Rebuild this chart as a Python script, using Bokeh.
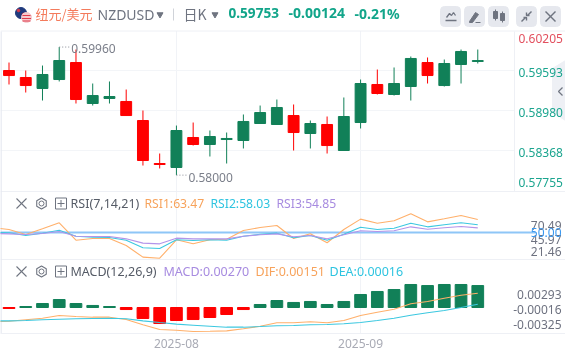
import numpy as np
from bokeh.plotting import figure
from bokeh.models import Range1d, LinearAxis, FixedTicker
from bokeh.core.properties import value
from bokeh.embed import file_html
from bokeh.resources import INLINE

# ---- data ----
highs = [.59723,.59601,.59677,.59960,.59922,.59402,.59433,.59310,.58989,.58331,.58759,.58805,.58683,.58652,.58928,
         .59065,.59157,.59081,.58836,.58897,.59188,.59463,.59616,.59647,.59815,.59800,.59769,.59922,.59922]
lows = [.59387,.59264,.59142,.59433,.59096,.59065,.59096,.58912,.58147,.58102,.58000,.58453,.58285,.58178,.58408,
        .58790,.58775,.58377,.58408,.58331,.58377,.58714,.59234,.59218,.59142,.59402,.59356,.59402,.59708]
opens = [.59601,.59494,.59326,.59463,.59723,.59096,.59173,.59127,.58836,.58178,.58117,.58576,.58469,.58545,.58530,
         .58790,.58775,.58912,.58637,.58775,.58377,.58805,.59387,.59234,.59356,.59723,.59371,.59693,.59739]
closes = [.59524,.59371,.59540,.59754,.59157,.59218,.59203,.58912,.58224,.58163,.58683,.58469,.58591,.58561,.58821,
          .58958,.59035,.58652,.58790,.58453,.58897,.59402,.59249,.59402,.59785,.59524,.59708,.59892,.59753]
rsi1 = [55.2,53.1,47.9,53.9,60.1,42.0,43.8,43.8,36.5,24.3,23.2,42.4,38.2,42.4,43.0,52.1,55.2,57.3,43.8,48.6,39.3,53.1,63.9,59.7,62.2,69.5,61.1,64.3,67.7,63.47]
rsi2 = [50.0,49.7,46.9,49.3,52.4,46.1,45.1,44.8,42.0,34.1,33.3,42.4,41.7,42.4,42.0,46.1,48.2,49.3,44.5,46.9,42.0,48.2,55.5,53.1,54.5,59.7,55.9,58.0,60.1,58.03]
rsi3 = [49.0,48.6,47.9,49.0,51.0,46.1,45.8,45.8,43.4,38.9,38.2,44.1,43.4,43.4,43.4,46.1,47.6,48.6,45.5,46.9,43.4,47.6,51.8,51.0,51.8,55.9,53.4,54.9,56.3,54.85]
hist = [-.00012,.00012,.00049,.00098,.00049,.00025,.00012,-.00025,-.00135,-.00197,-.00160,-.00148,-.00123,-.00086,-.00025,
        .00037,.00086,.00062,.00074,.00037,.00074,.00160,.00197,.00221,.00283,.00270,.00283,.00283,.00270]
dif = [-.00176,-.00169,-.00151,-.00132,-.00098,-.00111,-.00119,-.00119,-.00148,-.00213,-.00271,-.00279,-.00295,-.00292,-.00287,-.00262,
       -.00230,-.00188,-.00188,-.00176,-.00188,-.00160,-.00098,-.00058,-.00021,.00046,.00074,.00114,.00151,.00176]
dea = [-.00164,-.00164,-.00160,-.00151,-.00144,-.00139,-.00135,-.00132,-.00139,-.00164,-.00185,-.00205,-.00218,-.00230,-.00242,-.00242,
       -.00234,-.00225,-.00221,-.00213,-.00209,-.00200,-.00185,-.00160,-.00132,-.00095,-.00065,-.00037,0.0,.00041]
price_labels = ["0.60205", "0.59593", "0.58980", "0.58368", "0.57755"]
rsi_labels = ["70.49", "45.97", "21.46", "50.00"]
macd_labels = ["0.00293", "-0.00016", "-0.00325"]
date_labels = {10: "2025-08", 21: "2025-09"}

# ---- figure ----
F = value("Noto Sans")
CJK = value("Noto Sans CJK SC")
p = figure(width=565, height=355, x_range=Range1d(-0.508, 33.24), y_range=Range1d(333, 0),
           min_border=0, min_border_bottom=22, toolbar_location=None, output_backend="svg",
           outline_line_color=None, y_axis_location=None, tools="")
p.styles = {"position": "fixed", "left": "0px", "top": "0px"}
p.extra_x_ranges["px"] = Range1d(0, 565)
p.extra_y_ranges["price"] = Range1d(.60672 - .000153 * 333, .60672)
p.extra_y_ranges["rsi"] = Range1d(50 + (232 - 333) * 1.0417, 50 + 232 * 1.0417)
p.extra_y_ranges["macd"] = Range1d((307 - 333) * .000123, 307 * .000123)

ax = p.xaxis[0]
ax.ticker = FixedTicker(ticks=list(date_labels))
ax.major_label_overrides = date_labels
ax.major_tick_line_color = None
ax.minor_tick_line_color = None
ax.axis_line_color = "#eef0f5"
ax.major_label_text_color = "#a9abb5"
ax.major_label_text_font = "Noto Sans"
ax.major_label_text_font_size = "12px"
ax.major_label_standoff = -1
p.xgrid.grid_line_color = "#f1f3f7"
p.xgrid.ticker = FixedTicker(ticks=list(date_labels))
p.ygrid.visible = False

PX = dict(x_range_name="px")
# chrome
p.quad(left=[0], right=[565], top=[0], bottom=[30], color="white", **PX)
p.segment([0]*3, [70,110,150], [514]*3, [70,110,150], line_color="#f3f5f8", **PX)
p.segment([0,0,0], [30.5,191,259], [565,565,565], [30.5,191,259], line_color="#eef0f5", line_width=1, **PX)
p.segment([514], [31], [514], [191], line_color="#eef0f5", **PX)
p.segment([0.5], [31], [0.5], [333], line_color="#e6e9f1", line_width=1.5, **PX)

# side tab
p.patch([565,552,552,565], [60,68,112,120], color="#eef0f5", **PX)
p.line([562,558,562], [87,91,95], line_color="#6f7480", line_width=1.2, **PX)

# candles
n = len(opens)
xs = np.arange(n)
o, c = np.array(opens), np.array(closes)
up = c >= o
cols = np.where(up, "#118058", "#ff0000").tolist()
p.segment(xs, highs, xs, lows, line_color=cols, line_width=1, y_range_name="price")
p.vbar(xs, 0.65, top=np.maximum(o, c), bottom=np.minimum(o, c), color=cols, y_range_name="price")

# high/low markers
imax, imin = int(np.argmax(highs)), int(np.argmin(lows))
for i, v, yo in ((imax, highs[imax], 1.5), (imin, lows[imin], 2.5)):
    p.segment([i], [v], [i + 0.62], [v], line_color="#888c96", line_dash="1 2", y_range_name="price")
    p.text([i], [v], text=[f"{v:.5f}"], x_offset=12, text_baseline="middle", y_offset=yo,
           text_font=F, text_font_size="12px", text_color="#7b7f8a", y_range_name="price")

# price labels, clamped inside the panel
price_vals = np.array([float(s) for s in price_labels])
lo, hi = .60672 - .000153 * 181, .60672 - .000153 * 37
p.text([518]*5, np.clip(price_vals, lo, hi), text=price_labels, text_baseline="middle",
       text_font=F, text_font_size="12px", y_offset=1,
       text_color=["#e2505f"] + ["#1ba58f"]*4, x_range_name="px", y_range_name="price")

# RSI
xl = np.arange(-1, n)
p.line([0, 535], [50, 50], line_color="#8ec6f7", line_width=2, x_range_name="px", y_range_name="rsi")
p.line(xl, rsi1, line_color="#ffb06b", line_width=1.1, y_range_name="rsi")
p.line(xl, rsi2, line_color="#3cc8e0", line_width=1.1, y_range_name="rsi")
p.line(xl, rsi3, line_color="#b394ea", line_width=1.1, y_range_name="rsi")
p.text([561]*3, [225, 239, 251], text=rsi_labels[:3], text_align="right", text_baseline="middle",
       text_font=F, text_font_size="12px", text_color="#6e7280", **PX)
p.text([561], [50], text=[rsi_labels[3]], text_align="right", text_baseline="middle",
       text_font=F, text_font_size="12px", text_color="#3a98f0", x_range_name="px", y_range_name="rsi")

# MACD
h = np.array(hist)
p.vbar(xs, 0.7, top=np.maximum(h, 0), bottom=np.minimum(h, 0),
       color=np.where(h >= 0, "#118058", "#ff0000").tolist(), y_range_name="macd")
p.line(xl, dif, line_color="#ffb06b", line_width=1.1, y_range_name="macd")
p.line(xl, dea, line_color="#3cc8e0", line_width=1.1, y_range_name="macd")
p.text([561]*3, [294, 309, 324.3], text=macd_labels, text_align="right", text_baseline="middle",
       text_font=F, text_font_size="12px", text_color="#6e7280", **PX)

# header texts
def t(x, y, s, col, size="12.5px", font=F, style="normal"):
    p.text([x], [y], text=[s], text_baseline="middle", text_font=font, text_font_size=size,
           text_color=col, text_font_style=style, **PX)

# flags
p.scatter([20.5], [12.5], size=11, color="#1f3a7d", **PX)
p.scatter([18], [10], size=2.5, color="#e0394a", **PX)
p.scatter([23], [14], size=2.5, color="#e0394a", **PX)
p.scatter([26], [17], size=10, color="#f4c9cd", **PX)
p.segment([22,21.5,22], [15,18,20.5], [30,30.5,30], [15,18,20.5], line_color="#e0394a", line_width=1.2, **PX)

t(35, 13, "纽元/美元", "#f47b5c", "13px", CJK)
t(97, 14, "NZDUSD", "#6f7480", "14px")
p.scatter([159.5], [14], marker="inverted_triangle", size=6, color="#6f7480", **PX)
p.segment([173], [8], [173], [20], line_color="#d0d3d9", **PX)
t(183, 13, "日K", "#6f7480", "14px", CJK)
p.scatter([214.5], [14], marker="inverted_triangle", size=6, color="#6f7480", **PX)
t(228, 12.5, "0.59753", "#12a58a", "13.6px", F, "bold")
t(288, 12.5, "-0.00124", "#12a58a", "14px", F, "bold")
t(354, 12.5, "-0.21%", "#12a58a", "14px", F, "bold")

# header buttons
bl = [440, 464, 488, 516, 540]
p.quad(left=bl, right=[b + 20 for b in bl], top=[6]*5, bottom=[26]*5, color="#e6e8ee", border_radius=4, **PX)
p.line([446,449,451,453,455], [17,13,15,12,15], line_color="#6f7480", line_width=1.3, **PX)
p.segment([445], [20], [456], [20], line_color="#6f7480", line_width=1.3, **PX)
p.patch([469,475,478,472,469], [21,12,14,22,22], color="#6f7480", **PX)
p.segment([475], [22], [480], [22], line_color="#6f7480", **PX)
p.quad(left=[493,500], right=[497,504], top=[11,13], bottom=[18,20], color="#6f7480", **PX)
p.segment([495,502], [9,11], [495,502], [20,22], line_color="#6f7480", **PX)
p.multi_line([[521,525],[531,527],[523,526,526],[529,526,526]], [[21,17],[11,15],[17,17,20],[15,15,12]],
             line_color="#6f7480", line_width=1.4, **PX)
p.segment([545,555], [11,11], [555,545], [21,21], line_color="#6f7480", line_width=1.4, **PX)

# indicator headers
def hdr(y):
    p.segment([16,26], [y-5,y-5], [26,16], [y+5,y+5], line_color="#6f7480", line_width=1.1, **PX)
    a = np.deg2rad(np.arange(30, 390, 60))
    p.patch(41 + 5.5*np.cos(a), y + 5.5*np.sin(a), fill_color=None, line_color="#6f7480", line_width=1.1, **PX)
    p.scatter([41], [y], size=5, fill_color=None, line_color="#6f7480", **PX)
    p.quad(left=[55], right=[66], top=[y-5.5], bottom=[y+5.5], fill_color=None, line_color="#6f7480", **PX)
    p.segment([57,60.5], [y,y-3.5], [64,60.5], [y,y+3.5], line_color="#6f7480", **PX)
hdr(203)
hdr(271)
for x, s, col, sz in ((70,"RSI(7,14,21)","#555b66","12.5px"),(144,"RSI1:63.47","#f7a35c","12.2px"),
                      (210,"RSI2:58.03","#2ec4e0","12.2px"),(276,"RSI3:54.85","#a78be0","12.2px")):
    t(x, 203, s, col, sz)
for x, s, col in ((70,"MACD(12,26,9)","#555b66"),(163,"MACD:0.00270","#a78be0"),
                  (255,"DIF:0.00151","#f7a35c"),(329,"DEA:0.00016","#2ec4e0")):
    t(x, 271, s, col)

open("out.html", "w").write(file_html(p, INLINE))
